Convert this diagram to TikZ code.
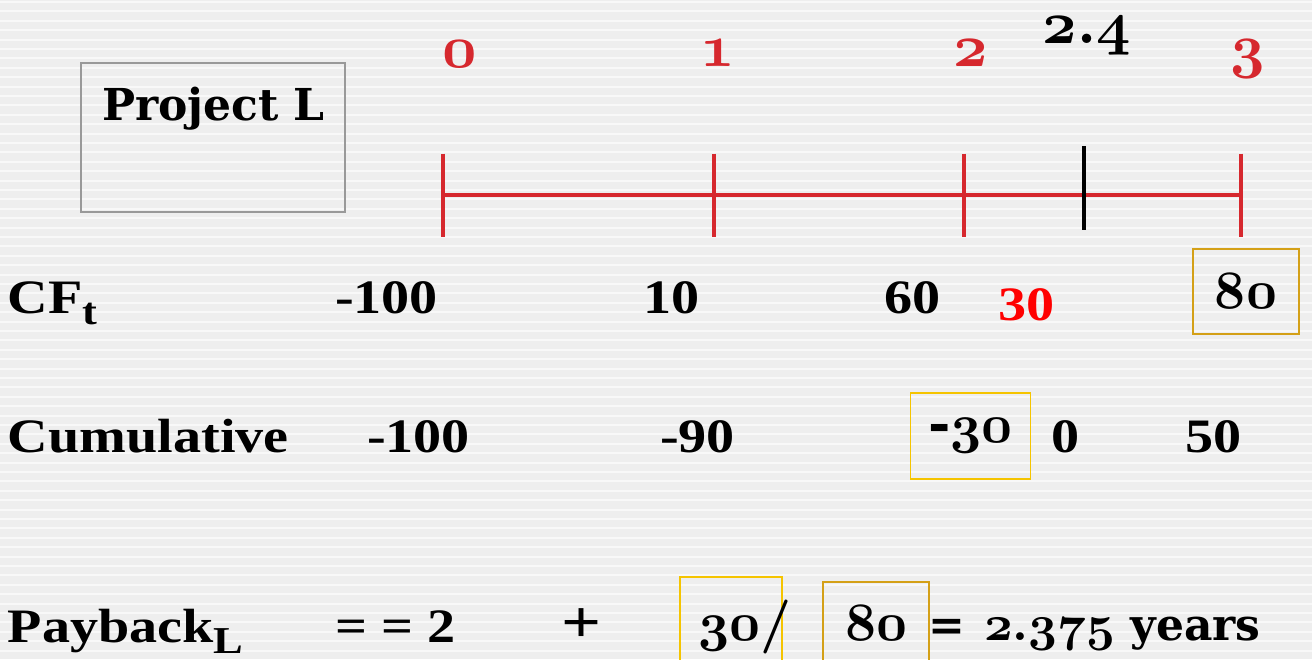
\documentclass[tikz,border=0pt]{standalone}
\usepackage{fontspec}
\usepackage{tikz}
\usetikzlibrary{positioning, calc}
\newfontfamily\timesbf{Liberation Serif}[FakeStretch=1.17]
\newfontfamily\georgiabf{DejaVu Serif}
\definecolor{timered}{RGB}{214, 40, 46}
\definecolor{boxgold}{RGB}{212, 160, 23}
\definecolor{boxyellow}{RGB}{245, 196, 0}
\definecolor{stripegray}{RGB}{238, 238, 238}
\definecolor{framegray}{RGB}{153, 153, 153}
% old-style digits (cmmib10 at the current size)
\makeatletter
\newcommand{\osf}[1]{{\font\osffont=cmmib10 at \f@size pt\osffont #1}}
\makeatother
\newcommand{\osfdot}{\char58\relax}
\newcommand{\osfslash}{\char61\relax}
\newcommand{\lowsub}[1]{\raisebox{-5.5pt}{\fontsize{19}{19}\selectfont #1}}

\begin{document}
\begin{tikzpicture}[
    x=0.5pt, y=-0.5pt,
    every node/.style={inner sep=0pt, outer sep=0pt},
    tm/.style={font=\timesbf\bfseries\fontsize{24}{28}\selectfont, anchor=base west},
    gg/.style={font=\georgiabf\bfseries\fontsize{22}{26}\selectfont, anchor=base west},
    yearlbl/.style={font=\fontsize{30}{32}\selectfont, text=timered, anchor=base},
    timeline/.style={timered, line width=2.3pt},
    goldbox/.style={draw=boxgold, line width=0.8pt},
    yellowbox/.style={draw=boxyellow, line width=0.8pt}
]
\useasboundingbox (0,0) rectangle (1312,659);
\clip (0,0) rectangle (1312,659);
\fill[stripegray] (0,0) rectangle (1312,659);
\foreach \y in {2,11.4,...,659}
    \draw[white!60!stripegray, line width=1pt] (0,\y) -- (1312,\y);

% project box
\node[draw=framegray, line width=0.75pt, minimum width=132pt, minimum height=74.5pt, anchor=north west] (projbox) at (81,63) {};
\node[gg] (proj) at (102,120) {Project L};

% time line
\coordinate (t0) at (443,195);
\coordinate (t1) at (714,195);
\coordinate (t2) at (964,195);
\coordinate (t3) at (1241,195);
\coordinate (tmid) at (1084,188);
\draw[timeline] (t0) -- (t3);
\foreach \c in {t0,t1,t2,t3}
    \draw[timeline] ([yshift=20.75pt]\c) -- ([yshift=-20.75pt]\c);
\draw[black, line width=2.2pt] ([yshift=21pt]tmid) -- ([yshift=-21pt]tmid);
\node[yearlbl] (lbl0) at (460,67) {\osf{0}};
\node[yearlbl] (lbl1) at (718,66) {\osf{1}};
\node[yearlbl] (lbl2) at (971,66) {\osf{2}};
\node[yearlbl] (lbl3) at (1248,66) {\osf{3}};
\node[yearlbl, text=black] (lblmid) at (1087,43) {\osf{2\osfdot 4}};

% cash flows
\node[tm] (cf) at (8,313) {CF\lowsub{t}};
\node[tm] (cf0) at (335,313) {-100};
\node[tm] (cf1) at (643,313) {10};
\node[tm] (cf2) at (884,313) {60};
\node[tm, text=red] (cfpart) at (998,320) {30};
\node[goldbox, font=\fontsize{27}{28}\selectfont, minimum width=53pt, minimum height=42.5pt] (cf3) at (1246,291.5) {\osf{80}};

% cumulative
\node[tm] (cum) at (8,452) {Cumulative};
\node[tm] (cum0) at (367,452) {-100};
\node[tm] (cum1) at (660,452) {-90};
\node[yellowbox, font=\georgiabf\bfseries\fontsize{27}{28}\selectfont, minimum width=60pt, minimum height=43pt] (cum2) at (970.5,436) {-\osf{30}};
\node[tm] (cumzero) at (1051,452) {0};
\node[tm] (cum3) at (1185,452) {50};

% payback
\node[tm] (pb) at (8,642) {Payback\lowsub{L}};
\node[tm] (pbeq) at (335,642) {= = 2};
\node[tm, font=\timesbf\bfseries\fontsize{30}{32}\selectfont] (plus) at (561,642) {+};
\node[yellowbox, minimum width=51pt, minimum height=50pt, anchor=north west] (numbox) at (680,577) {};
\node[goldbox, minimum width=53pt, minimum height=50pt, anchor=north west] (denbox) at (823,582) {};
\node[gg, font=\fontsize{27}{28}\selectfont] (num) at (698,640) {\osf{30\osfslash}};
\node[gg, font=\fontsize{27}{28}\selectfont] (den) at (845,640) {\osf{80}};
\node[gg] (res) at (928,640) {= \hspace{2pt}{\fontsize{25}{28}\selectfont\osf{2\osfdot 375}} years};
\end{tikzpicture}
\end{document}
